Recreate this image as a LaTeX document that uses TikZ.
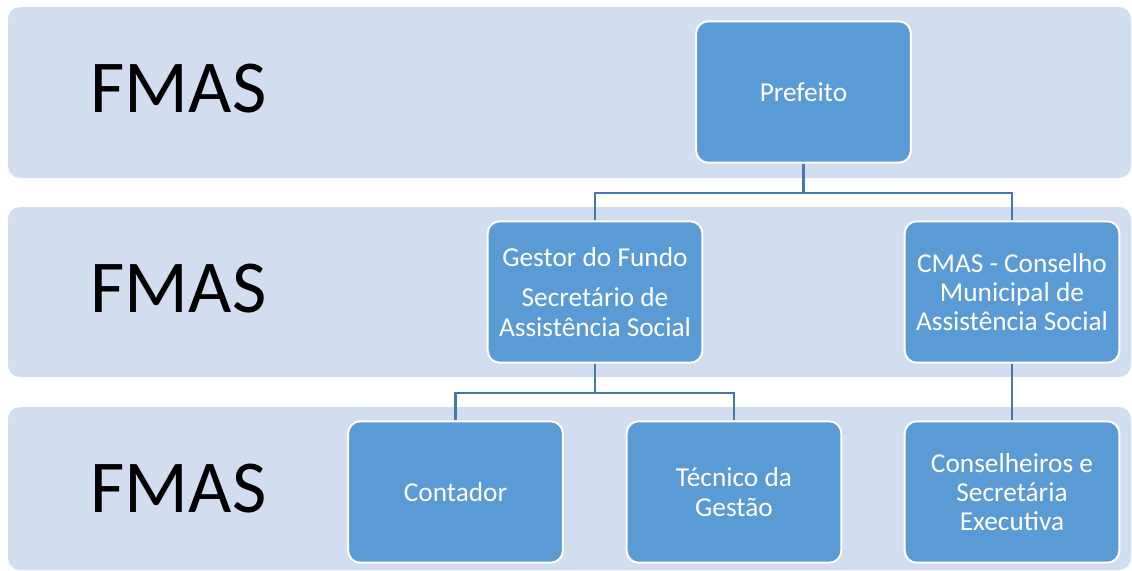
\documentclass[tikz,border=0pt]{standalone}
\usepackage{fontspec}
\setmainfont{Carlito}
\usepackage{tikz}
\definecolor{org_band}{RGB}{210, 222, 239}
\definecolor{org_box}{RGB}{91, 155, 213}
\definecolor{org_line}{RGB}{70, 120, 175}
\tikzstyle{band}=[fill=org_band,rounded corners=9pt]
\tikzstyle{lvl}=[font=\fontsize{56}{56}\selectfont,text=black,inner sep=0pt]
\tikzstyle{ob}=[rectangle,rounded corners=9pt,fill=org_box,draw=white,
  line width=1.5pt,text=white,align=center,font=\fontsize{20.5}{22}\selectfont,
  minimum width=161pt,minimum height=106pt,inner sep=2pt]
\tikzstyle{conn}=[draw=org_line,line width=1.6pt]

\begin{document}
\begin{tikzpicture}[x=0.75pt,y=-0.75pt]
        \useasboundingbox (0,0) rectangle (1132,571);
        \fill [style=band] (8,7) rectangle (1131,178);
        \fill [style=band] (8,207) rectangle (1131,377);
        \fill [style=band] (8,407) rectangle (1131,570);
        \node [style=lvl] (l1) at (178.5,89) {FMAS};
        \node [style=lvl] (l2) at (178.5,289) {FMAS};
        \node [style=lvl] (l3) at (178.5,489) {FMAS};
        \node [style=ob] (pref) at (803.5,92) {Prefeito};
        \node [style=ob] (gest) at (595,292) {Gestor do Fundo\\[8pt] Secretário de\\ Assistência Social};
        \node [style=ob] (cmas) at (1012,292) {CMAS - Conselho\\ Municipal de\\ Assistência Social};
        \node [style=ob] (cont) at (455.5,492) {Contador};
        \node [style=ob] (tec) at (734,492) {Técnico da\\ Gestão};
        \node [style=ob] (cons) at (1012,492) {Conselheiros e\\ Secretária\\ Executiva};
        \draw [style=conn] (pref.south) -- ++(0,29) -| (gest.north);
        \draw [style=conn] (pref.south) -- ++(0,29) -| (cmas.north);
        \draw [style=conn] (gest.south) -- ++(0,29) -| (cont.north);
        \draw [style=conn] (gest.south) -- ++(0,29) -| (tec.north);
        \draw [style=conn] (cmas) to (cons);
    \end{tikzpicture}
\end{document}
